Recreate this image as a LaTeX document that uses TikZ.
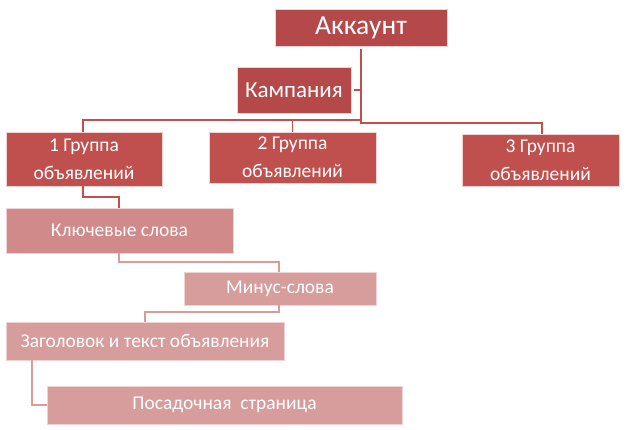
\documentclass[tikz,border=0pt]{standalone}
\usepackage{fontspec}
\setmainfont{Carlito}
\definecolor{darkred}{HTML}{B5494A}
\definecolor{grpred}{HTML}{C0504D}
\definecolor{kwpink}{HTML}{CF8A89}
\definecolor{lightpink}{HTML}{D79D9C}
\definecolor{linered}{HTML}{C0504D}
\definecolor{linepink}{HTML}{D89C9B}
\begin{document}
\begin{tikzpicture}[x=1pt,y=-1pt,
  boxbase/.style={draw=white!75!grpred, line width=0.8pt, text=white, inner sep=0pt, align=center},
  topbox/.style={boxbase, fill=darkred},
  grpbox/.style={boxbase, fill=grpred, font=\fontsize{19.5}{28}\selectfont},
  kwbox/.style={boxbase, fill=kwpink, font=\fontsize{19.5}{22}\selectfont},
  ltbox/.style={boxbase, fill=lightpink, font=\fontsize{19.5}{22}\selectfont},
  conn/.style={draw=linered, line width=1.6pt},
  connlt/.style={draw=linepink, line width=1.6pt}]
\useasboundingbox (0,0) rectangle (628,429);
% boxes
\node[topbox, minimum width=172pt, minimum height=37pt, font=\fontsize{27.5}{30}\selectfont] (acc) at (361,27.5) {Аккаунт};
\node[topbox, minimum width=114pt, minimum height=46pt, font=\fontsize{23}{26}\selectfont] (camp) at (294,90) {Кампания};
\node[grpbox, minimum width=156pt, minimum height=54pt] (g1) at (84,159) {1 Группа\\объявлений};
\node[grpbox, minimum width=167pt, minimum height=51pt] (g2) at (292.5,157.5) {2 Группа\\объявлений};
\node[grpbox, minimum width=157pt, minimum height=52pt] (g3) at (540.5,160) {3 Группа\\объявлений};
\node[kwbox, minimum width=227pt, minimum height=45pt] (kw) at (119.5,230.5) {Ключевые слова};
\node[ltbox, minimum width=192pt, minimum height=33pt] (minus) at (280,288.5) {Минус-слова};
\node[ltbox, minimum width=278pt, minimum height=38pt] (head) at (145,341) {Заголовок и текст объявления};
\node[ltbox, minimum width=355pt, minimum height=38pt] (land) at (224.5,405) {Посадочная\ \ страница};
% junction coordinates
\coordinate (jtop) at (361,123);
\coordinate (jmid) at (361,120);
% connectors
\draw[conn] (acc.south) ++(0,3) coordinate (accs) -- (jtop) -- (542,123) -- (g3.north -| 542,0);
\draw[conn] (camp.east) ++(3,0) -- (jmid |- camp.east);
\draw[conn] (jmid) -- (83,120) -- (g1.north -| 83,0);
\draw[conn] (g2.north) ++(0,0) -- (292.5,120);
\draw[conn] (g1.south -| 83,0) -- (83,197) -- (119,197) -- (kw.north -| 119,0);
\draw[connlt] (kw.south -| 119,0) -- (119,262) -- (279,262) -- (minus.north -| 279,0);
\draw[connlt] (minus.south -| 279,0) -- (279,312) -- (145,312) -- (head.north -| 145,0);
\draw[connlt] (head.south -| 32,0) -- (32,405) -- (land.west);
\end{tikzpicture}
\end{document}
